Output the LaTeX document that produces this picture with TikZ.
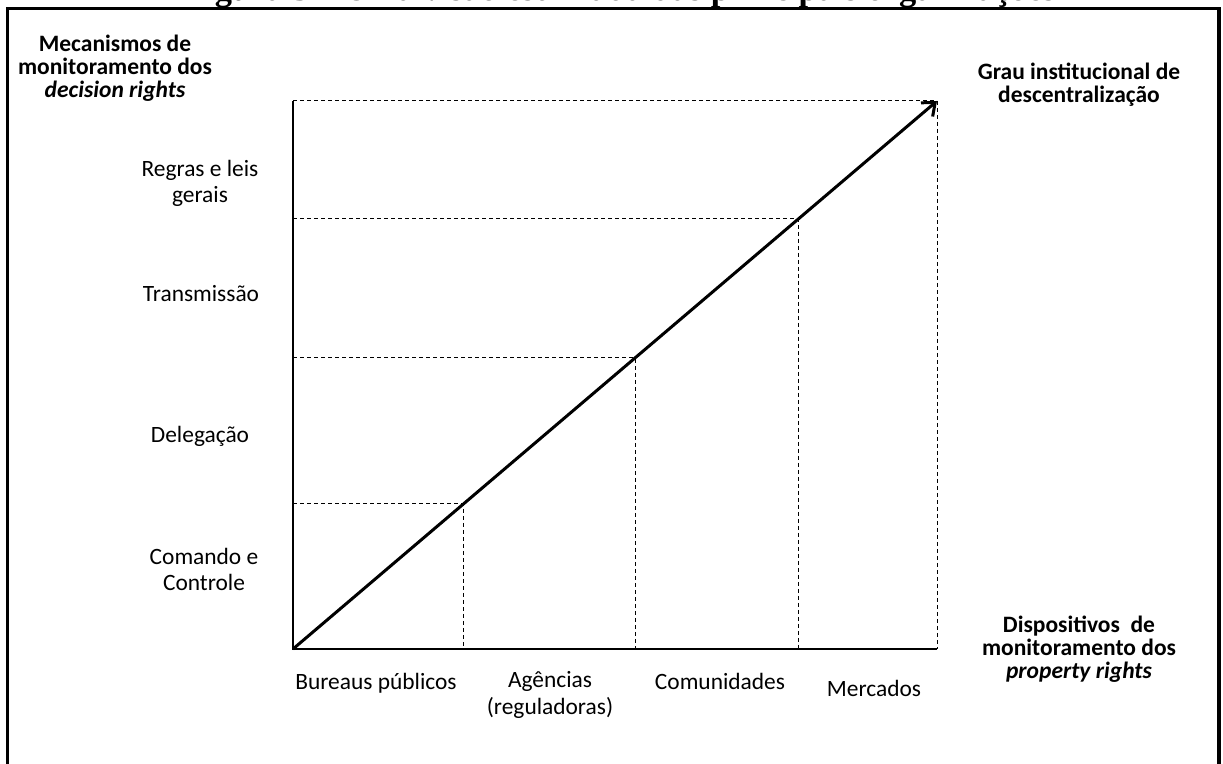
\documentclass[tikz,border=0pt]{standalone}
\usepackage{fontspec}
\setmainfont{Carlito}
\newfontfamily\titlefont{Liberation Serif}
\usetikzlibrary{arrows.meta}

\tikzset{
  lbl/.style={font=\fontsize{11.7}{13.2}\selectfont, align=center, inner sep=0pt},
  head/.style={lbl, font=\fontsize{11.75}{11.5}\selectfont\bfseries},
  axis/.style={line width=0.75pt},
  guide/.style={line width=0.5pt, dash pattern=on 2pt off 1.5pt},
  grade/.style={line width=1.5pt, -{Straight Barb[length=5.5pt,width=9pt]}},
}

\begin{document}
\begin{tikzpicture}[x=0.5pt,y=-0.5pt]
\useasboundingbox (0,0) rectangle (1223,764);
\clip (0,0) rectangle (1223,764);

\draw[line width=1.75pt] (7.5,8.5) rectangle (1219,800);
\node[anchor=base, inner sep=0pt, font=\titlefont\fontsize{17.2}{20}\selectfont\bfseries] (title) at (620,1)
  {Figura 3 – Uma visão estilizada das principais organizações};

\coordinate (O) at (293,649);
\coordinate (T) at (937,101);
\coordinate (p1) at (463,504);
\coordinate (p2) at (635,358);
\coordinate (p3) at (798,219);

\draw[guide] (T -| O) -- (T) -- (O -| T);
\foreach \p in {p1,p2,p3}
  \draw[guide] (O |- \p) -- (\p) -- (\p |- O);
\draw[axis] (T -| O) -- (O) -- (O -| T);
\draw[grade] (O) -- (T);

\node[head] (decisao) at (115,68) {Mecanismos de\\monitoramento dos\\\textit{decision rights}};
\node[head] (grau) at (1079,85) {Grau institucional de\\descentralização};

\node[lbl] (regras) at (200,183.5) {Regras e leis\\gerais};
\node[lbl] (transm) at (201,294) {Transmissão};
\node[lbl] (deleg) at (200,436) {Delegação};
\node[lbl] (comando) at (204,569.5) {Comando e\\Controle};

\node[head] (disposit) at (1079,649) {Dispositivos~ de\\monitoramento dos\\\textit{property rights}};

\node[lbl] (bureaus) at (376,683) {Bureaus públicos};
\node[lbl] (agencias) at (550,695) {Agências\\(reguladoras)};
\node[lbl] (comunid) at (720,681) {Comunidades};
\node[lbl] (mercados) at (874,688) {Mercados};
\end{tikzpicture}
\end{document}
